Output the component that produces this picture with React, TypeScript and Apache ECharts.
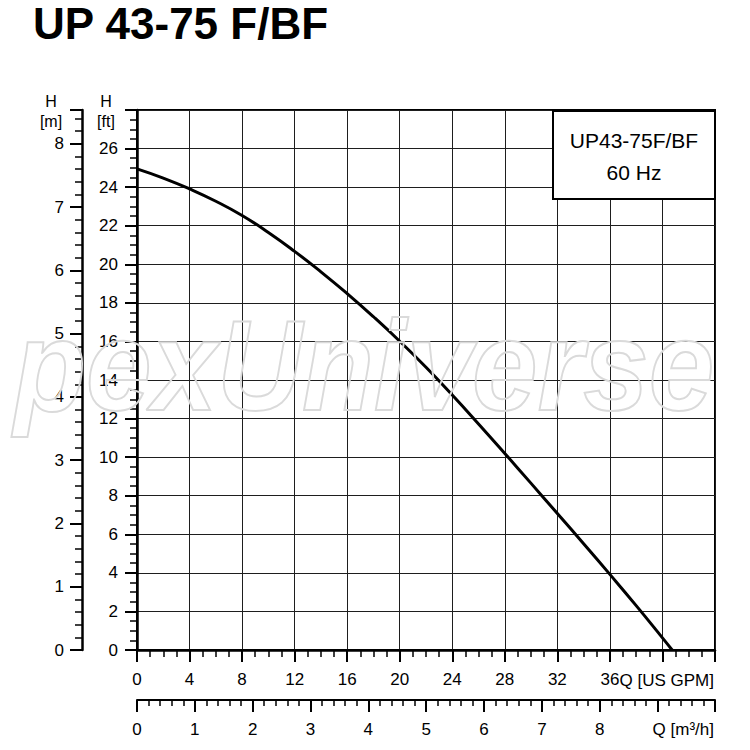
import React, { useEffect, useRef } from "react";
import * as echarts from "echarts";

// Flow in US GPM and head in ft
const flowGpm = [0, 2, 4, 6, 8, 10, 12, 14, 16, 18, 20, 22, 24, 26, 28, 30, 32, 34, 36, 38, 40, 40.74];
const headFt = [24.95, 24.47, 23.91, 23.27, 22.53, 21.65, 20.67, 19.61, 18.48, 17.28, 16.01, 14.66, 13.22, 11.72, 10.19, 8.64, 7.08, 5.51, 3.92, 2.3, 0.63, 0];

const GPM_PER_M3H = 4.402868;
const FT_PER_M = 3.28084;

const gpmMax = 44;
const gpmLabelMax = 36;
const ftMax = 28;
const ftLabelMax = 26;
const mLabelMax = 8;
const m3hLabelMax = 8;

const title = "UP 43-75 F/BF";
const legendLines = ["UP43-75F/BF", "60 Hz"];
const gpmAxisName = "Q [US GPM]";
const m3hAxisName = "Q [m³/h]";
const watermark = "pexUniverse";

const FONT = '"Liberation Sans", Arial, Helvetica, sans-serif';

export default function App() {
  const ref = useRef<HTMLDivElement>(null);

  useEffect(() => {
    if (!ref.current) return;
    const chart = echarts.init(ref.current, null, { renderer: "svg" });
    const lineColor = "#000";
    const gridColor = "#1e1e1e";
    const tickLabel = { color: "#000", fontSize: 17, fontFamily: FONT };

    const option: any = {
      animation: false,
      backgroundColor: "#fff",
      grid: {
        left: 137,
        right: 35,
        top: 110,
        bottom: 100,
        show: true,
        borderColor: "#000",
        borderWidth: 2,
        backgroundColor: "transparent",
      },
      xAxis: [
        {
          type: "value",
          position: "bottom",
          min: 0,
          max: gpmMax,
          interval: 4,
          axisLine: { show: true, onZero: false, lineStyle: { color: lineColor, width: 2.5 } },
          axisTick: { show: true, length: 12, lineStyle: { color: lineColor, width: 2 } },
          minorTick: { show: true, splitNumber: 4, length: 7, lineStyle: { color: lineColor, width: 1.5 } },
          axisLabel: {
            ...tickLabel,
            margin: 21,
            formatter: (v: number) => (v <= gpmLabelMax ? String(v) : ""),
          },
          splitLine: { show: true, lineStyle: { color: gridColor, width: 1 } },
        },
        {
          type: "value",
          position: "bottom",
          offset: 50,
          min: 0,
          max: gpmMax / GPM_PER_M3H,
          interval: 1,
          axisLine: { show: true, onZero: false, lineStyle: { color: lineColor, width: 2 } },
          axisTick: { show: true, length: 12, lineStyle: { color: lineColor, width: 2 } },
          minorTick: { show: true, splitNumber: 5, length: 6, lineStyle: { color: lineColor, width: 1.5 } },
          axisLabel: {
            ...tickLabel,
            margin: 21,
            formatter: (v: number) => (v <= m3hLabelMax && Math.abs(v - Math.round(v)) < 1e-6 ? String(v) : ""),
          },
          splitLine: { show: false },
        },
      ],
      yAxis: [
        {
          type: "value",
          position: "left",
          min: 0,
          max: ftMax,
          interval: 2,
          axisLine: { show: true, onZero: false, lineStyle: { color: lineColor, width: 2.5 } },
          axisTick: { show: true, length: 12, lineStyle: { color: lineColor, width: 2 } },
          minorTick: { show: true, splitNumber: 4, length: 7, lineStyle: { color: lineColor, width: 1.5 } },
          axisLabel: {
            ...tickLabel,
            margin: 19,
            formatter: (v: number) => (v <= ftLabelMax ? String(v) : ""),
          },
          splitLine: { show: true, lineStyle: { color: gridColor, width: 1 } },
        },
        {
          type: "value",
          position: "left",
          offset: 55,
          min: 0,
          max: ftMax / FT_PER_M,
          interval: 1,
          axisLine: { show: true, onZero: false, lineStyle: { color: lineColor, width: 2.5 } },
          axisTick: { show: true, length: 12, lineStyle: { color: lineColor, width: 2 } },
          minorTick: { show: true, splitNumber: 5, length: 7, lineStyle: { color: lineColor, width: 1.5 } },
          axisLabel: {
            ...tickLabel,
            margin: 18,
            formatter: (v: number) => (v <= mLabelMax && Math.abs(v - Math.round(v)) < 1e-6 ? String(v) : ""),
          },
          splitLine: { show: false },
        },
      ],
      series: [
        {
          type: "line",
          xAxisIndex: 0,
          yAxisIndex: 0,
          data: flowGpm.map((q, i) => [q, headFt[i]]),
          smooth: 0.5,
          showSymbol: false,
          symbol: "none",
          lineStyle: { color: "#000", width: 3 },
          z: 5,
        },
      ],
      graphic: [
        {
          type: "text",
          x: 14,
          y: 366,
          scaleX: 0.92,
          z: 50,
          silent: true,
          style: {
            text: watermark,
            fontSize: 128,
            fontWeight: "bold",
            fontStyle: "italic",
            fontFamily: FONT,
            fill: "rgba(255,255,255,0)",
            stroke: "#dadada",
            lineWidth: 2,
            verticalAlign: "middle",
            align: "left",
          },
        },
        {
          type: "text",
          x: 33,
          y: 23,
          style: {
            text: title,
            fontSize: 44,
            fontWeight: "bold",
            fontFamily: FONT,
            fill: "#000",
            verticalAlign: "middle",
            align: "left",
          },
        },
        { type: "text", x: 51, y: 101, style: { text: "H", fontSize: 16, fontFamily: FONT, fill: "#000", align: "center", verticalAlign: "middle" } },
        { type: "text", x: 51, y: 121, style: { text: "[m]", fontSize: 16, fontFamily: FONT, fill: "#000", align: "center", verticalAlign: "middle" } },
        { type: "text", x: 106, y: 101, style: { text: "H", fontSize: 16, fontFamily: FONT, fill: "#000", align: "center", verticalAlign: "middle" } },
        { type: "text", x: 106, y: 121, style: { text: "[ft]", fontSize: 16, fontFamily: FONT, fill: "#000", align: "center", verticalAlign: "middle" } },
        { type: "text", x: 714, y: 680, style: { text: gpmAxisName, fontSize: 17, fontFamily: FONT, fill: "#000", align: "right", verticalAlign: "middle" } },
        { type: "text", x: 714, y: 729, style: { text: m3hAxisName, fontSize: 17, fontFamily: FONT, fill: "#000", align: "right", verticalAlign: "middle" } },
        {
          type: "rect",
          z: 100,
          shape: { x: 553, y: 111, width: 162, height: 88 },
          style: { fill: "#fff", stroke: "#000", lineWidth: 2 },
        },
        {
          type: "text",
          z: 101,
          x: 634,
          y: 140,
          style: { text: legendLines[0], fontSize: 21, fontFamily: FONT, fill: "#000", align: "center", verticalAlign: "middle" },
        },
        {
          type: "text",
          z: 101,
          x: 634,
          y: 172,
          style: { text: legendLines[1], fontSize: 21, fontFamily: FONT, fill: "#000", align: "center", verticalAlign: "middle" },
        },
      ],
    };

    chart.setOption(option);
    return () => chart.dispose();
  }, []);

  return (
    <div
      ref={ref}
      style={{ position: "absolute", left: 0, top: 0, width: 750, height: 750 }}
    />
  );
}
